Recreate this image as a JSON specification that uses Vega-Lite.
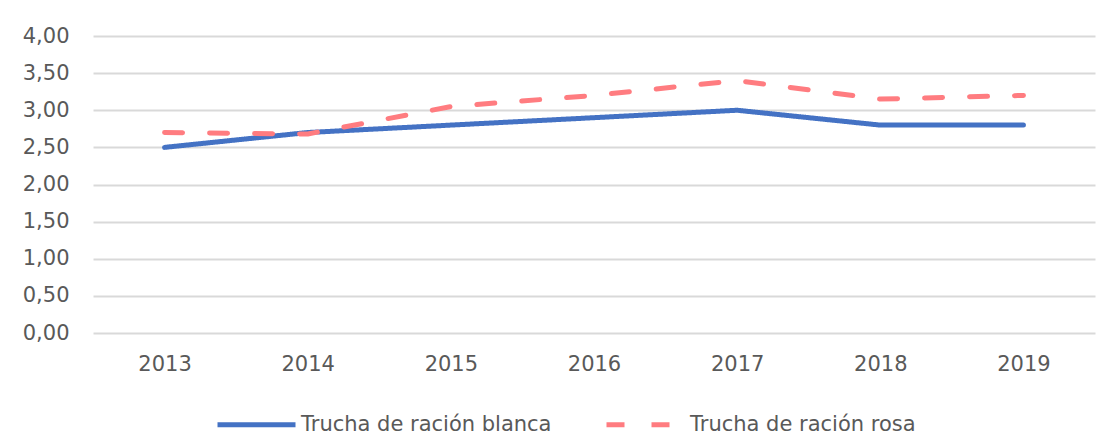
{
  "$schema": "https://vega.github.io/schema/vega-lite/v6.json",
  "autosize": "none",
  "width": 1002,
  "height": 297,
  "padding": {"left": 93, "top": 36, "right": 5, "bottom": 115},
  "background": "white",
  "config": {
    "view": {"stroke": null},
    "font": "DejaVu Sans",
    "axis": {"labelFont": "DejaVu Sans", "labelFontSize": 21, "labelColor": "#595959", "ticks": false, "domain": false}
  },
  "data": {
    "values": [
      {"year": "2013", "series": "Trucha de ración blanca", "price": 2.50},
      {"year": "2014", "series": "Trucha de ración blanca", "price": 2.70},
      {"year": "2015", "series": "Trucha de ración blanca", "price": 2.80},
      {"year": "2016", "series": "Trucha de ración blanca", "price": 2.90},
      {"year": "2017", "series": "Trucha de ración blanca", "price": 3.00},
      {"year": "2018", "series": "Trucha de ración blanca", "price": 2.80},
      {"year": "2019", "series": "Trucha de ración blanca", "price": 2.80},
      {"year": "2013", "series": "Trucha de ración rosa", "price": 2.70},
      {"year": "2014", "series": "Trucha de ración rosa", "price": 2.68},
      {"year": "2015", "series": "Trucha de ración rosa", "price": 3.05},
      {"year": "2016", "series": "Trucha de ración rosa", "price": 3.20},
      {"year": "2017", "series": "Trucha de ración rosa", "price": 3.40},
      {"year": "2018", "series": "Trucha de ración rosa", "price": 3.15},
      {"year": "2019", "series": "Trucha de ración rosa", "price": 3.20}
    ]
  },
  "mark": {"type": "line", "strokeWidth": 5, "strokeCap": "round", "strokeJoin": "round"},
  "encoding": {
    "x": {
      "field": "year", "type": "ordinal",
      "scale": {"type": "point", "padding": 0.5},
      "axis": {"title": null, "labelAngle": 0, "labelPadding": 20, "grid": false}
    },
    "y": {
      "field": "price", "type": "quantitative",
      "scale": {"domain": [0, 4]},
      "axis": {
        "title": null, "values": [0, 0.5, 1, 1.5, 2, 2.5, 3, 3.5, 4],
        "labelExpr": "replace(format(datum.value, '.2f'), '.', ',')",
        "labelPadding": 24, "grid": true, "gridColor": "#D9D9D9", "gridWidth": 2
      }
    },
    "color": {
      "field": "series", "type": "nominal",
      "scale": {"domain": ["Trucha de ración blanca", "Trucha de ración rosa"], "range": ["#4472C4", "#FF7C80"]},
      "legend": {
        "title": null, "orient": "none", "direction": "horizontal",
        "legendX": 122, "legendY": 347,
        "symbolType": "stroke", "symbolSize": 6084, "symbolStrokeWidth": 5,
        "labelFontSize": 21, "labelColor": "#595959", "labelFont": "DejaVu Sans",
        "labelOffset": 3, "columnPadding": 44, "labelLimit": 500
      }
    },
    "strokeDash": {
      "field": "series", "type": "nominal",
      "scale": {"domain": ["Trucha de ración blanca", "Trucha de ración rosa"], "range": [[1, 0], [18, 27]]},
      "legend": {
        "title": null, "orient": "none", "direction": "horizontal",
        "legendX": 122, "legendY": 347,
        "symbolType": "stroke", "symbolSize": 6084, "symbolStrokeWidth": 5,
        "labelFontSize": 21, "labelColor": "#595959", "labelFont": "DejaVu Sans",
        "labelOffset": 3, "columnPadding": 44, "labelLimit": 500
      }
    }
  }
}
